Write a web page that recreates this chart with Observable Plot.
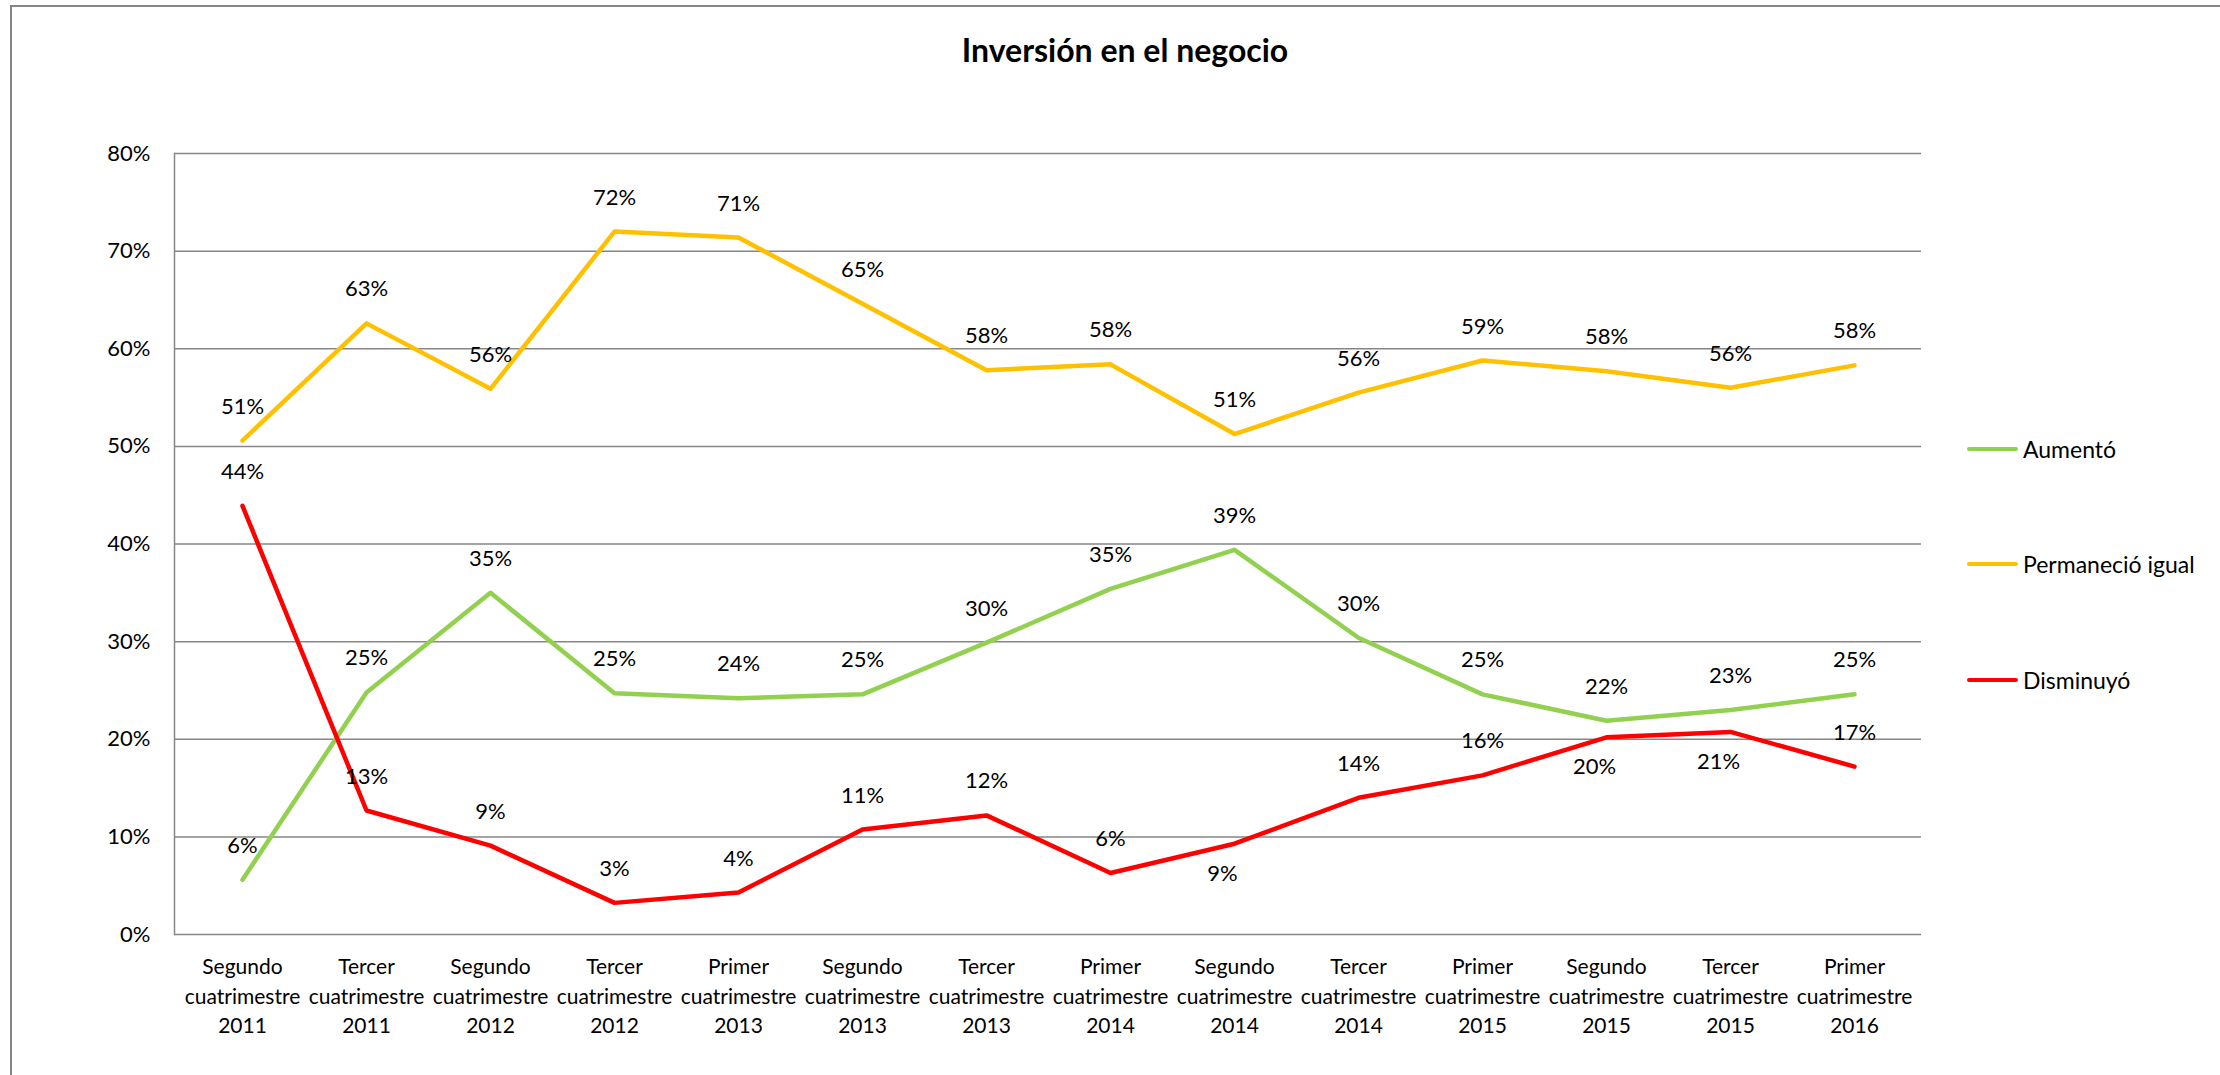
<!DOCTYPE html>
<html>
<head>
<meta charset="utf-8">
<script src="https://cdn.jsdelivr.net/npm/d3@7"></script>
<script src="https://cdn.jsdelivr.net/npm/@observablehq/plot@0.6"></script>
<style>
  html, body { margin: 0; padding: 0; background: #fff; }
  #wrap { position: relative; width: 2220px; height: 1075px; overflow: hidden; font-family: Lato, "Open Sans", sans-serif; color: #000; }
  #border { position: absolute; left: 10px; top: 5px; right: -10px; bottom: -10px; border-left: 2px solid #868686; border-top: 2px solid #868686; }
  #title { position: absolute; left: 0; width: 2250px; top: 30px; text-align: center; font-weight: 700; font-size: 32px; line-height: 40px; }
  #chart { position: absolute; left: 0; top: 0; }
  .leg { position: absolute; left: 1967px; height: 30px; display: flex; align-items: center; font-size: 23px; }
  .leg .sw { width: 51px; height: 4.5px; border-radius: 2px; margin-right: 5px; }
</style>
</head>
<body>
<div id="wrap">
  <div id="border"></div>
  <div id="chart"></div>
  <div id="title">Inversión en el negocio</div>
</div>
<script>
// ---- data ----
const categories = [
  "Segundo cuatrimestre 2011", "Tercer cuatrimestre 2011", "Segundo cuatrimestre 2012",
  "Tercer cuatrimestre 2012", "Primer cuatrimestre 2013", "Segundo cuatrimestre 2013",
  "Tercer cuatrimestre 2013", "Primer cuatrimestre 2014", "Segundo cuatrimestre 2014",
  "Tercer cuatrimestre 2014", "Primer cuatrimestre 2015", "Segundo cuatrimestre 2015",
  "Tercer cuatrimestre 2015", "Primer cuatrimestre 2016"
];
const series = ["Aumentó", "Permaneció igual", "Disminuyó"];
const aumento    = [0.056, 0.248, 0.350, 0.247, 0.242, 0.246, 0.299, 0.354, 0.394, 0.304, 0.246, 0.219, 0.230, 0.246];
const permanecio = [0.506, 0.626, 0.559, 0.720, 0.714, 0.646, 0.578, 0.584, 0.5126, 0.555, 0.588, 0.577, 0.560, 0.583];
const disminuyo  = [0.439, 0.127, 0.091, 0.0324, 0.043, 0.1075, 0.122, 0.063, 0.093, 0.140, 0.163, 0.202, 0.2075, 0.172];
const yTicks = [0, 0.1, 0.2, 0.3, 0.4, 0.5, 0.6, 0.7, 0.8];

// ---- style config ----
const colors = ["#92D050", "#FFC000", "#FF0000"];
const belowLabels = {"Disminuyó": [8, 11, 12]};

const valuesBySeries = [aumento, permanecio, disminuyo];
const rows = [];
series.forEach((s, si) => {
  valuesBySeries[si].forEach((v, i) => {
    rows.push({cat: categories[i], serie: s, value: v, below: (belowLabels[s] || []).includes(i)});
  });
});
const pct = d3.format(".0%");

const chart = Plot.plot({
  width: 2220,
  height: 1075,
  marginLeft: 174,
  marginRight: 299,
  marginTop: 153,
  marginBottom: 141,
  style: {fontFamily: "Lato, 'Open Sans', sans-serif", fontSize: "21px", color: "#000", background: "transparent"},
  x: {type: "point", domain: categories, padding: 0.5, axis: null, label: null},
  y: {domain: [0, 0.8], axis: null, label: null},
  color: {domain: series, range: colors},
  marks: [
    Plot.gridY(yTicks, {stroke: "#868686", strokeOpacity: 1, strokeWidth: 1.5}),
    Plot.frame({anchor: "left", stroke: "#868686", strokeWidth: 1.5}),
    Plot.axisY(yTicks, {tickSize: 0, tickPadding: 24, tickFormat: pct, fontSize: 22, label: null}),
    Plot.text(categories, {x: d => d, text: d => d.replace(/ /g, "\n"), frameAnchor: "bottom", lineAnchor: "top", dy: 19, lineHeight: 1.4, fontSize: 21}),
    Plot.line(rows, {x: "cat", y: "value", z: "serie", stroke: "serie", strokeWidth: 4.5, strokeLinejoin: "round", strokeLinecap: "round"}),
    Plot.text(rows.filter(d => !d.below), {x: "cat", y: "value", text: d => pct(d.value), dy: -34, fontSize: 22}),
    Plot.text(rows.filter(d => d.below), {x: "cat", y: "value", text: d => pct(d.value), dy: 30, dx: -12, fontSize: 22})
  ]
});
document.getElementById("chart").appendChild(chart);

// ---- legend ----
const legendY = [449, 564, 680];
const wrap = document.getElementById("wrap");
series.forEach((s, i) => {
  const el = document.createElement("div");
  el.className = "leg";
  el.style.top = (legendY[i] - 15) + "px";
  const sw = document.createElement("div");
  sw.className = "sw";
  sw.style.background = colors[i];
  const tx = document.createElement("span");
  tx.textContent = s;
  el.appendChild(sw);
  el.appendChild(tx);
  wrap.appendChild(el);
});
</script>
</body>
</html>
